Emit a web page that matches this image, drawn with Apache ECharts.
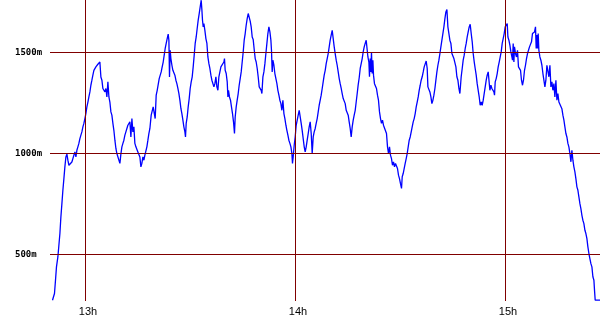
<!DOCTYPE html>
<html>
<head>
<meta charset="utf-8">
<script src="https://cdn.jsdelivr.net/npm/echarts@6/dist/echarts.min.js"></script>
<style>html,body{margin:0;padding:0;background:#fff}#c{width:600px;height:330px}</style>
</head>
<body>
<div id="c"></div>
<script>
// time in minutes after 12:00, altitude in metres
const times = [
50.57,51.06,51.14,51.43,51.71,52.11,52.40,52.69,52.97,53.26,53.54,53.83,54.11,54.40,54.69,54.97,55.26,55.54,55.83,56.11,
56.40,56.69,56.97,57.26,57.54,57.83,58.11,58.40,58.69,58.97,59.26,59.54,59.83,60.11,60.40,60.69,60.97,61.26,61.54,61.83,
62.11,62.40,62.69,62.97,63.26,63.54,63.83,64.11,64.40,64.69,64.97,65.26,65.54,65.83,66.11,66.40,66.69,66.97,67.26,67.54,
67.83,68.11,68.40,68.69,68.97,69.26,69.54,69.83,70.11,70.40,70.69,70.97,71.26,71.54,71.83,72.11,72.40,72.69,72.97,73.26,
73.54,73.83,74.11,74.40,74.69,74.97,75.26,75.54,75.83,76.11,76.40,76.69,76.97,77.26,77.54,77.83,78.11,78.40,78.77,79.06,
79.34,79.63,79.91,80.20,80.49,80.77,81.06,81.34,81.63,81.91,82.20,82.49,82.77,83.06,83.34,83.63,83.83,84.00,84.20,84.40,
84.69,84.97,85.26,85.54,85.83,86.11,86.40,86.69,86.97,87.26,87.54,87.83,88.11,88.40,88.57,88.77,89.06,89.34,89.63,89.91,
90.20,90.49,90.77,91.06,91.34,91.63,91.91,92.20,92.49,92.77,93.06,93.26,93.43,93.63,93.83,94.11,94.40,94.69,94.97,95.26,
95.54,95.83,96.11,96.40,96.69,96.97,97.26,97.54,97.83,98.11,98.40,98.69,98.97,99.26,99.54,99.71,99.91,100.20,100.49,100.69,
100.86,101.14,101.43,101.71,102.00,102.29,102.57,102.77,103.06,103.34,103.63,103.91,104.20,104.49,104.77,105.06,105.34,105.63,105.91,106.20,
106.49,106.77,107.06,107.34,107.63,107.91,108.20,108.49,108.77,109.06,109.34,109.63,109.91,110.20,110.40,110.69,110.97,111.26,111.54,111.83,
112.11,112.40,112.69,112.97,113.14,113.34,113.54,113.83,114.11,114.40,114.69,114.97,115.26,115.54,115.83,116.11,116.40,116.69,116.97,117.26,
117.54,117.83,118.11,118.40,118.69,118.97,119.14,119.34,119.63,119.91,120.20,120.49,120.77,121.06,121.34,121.63,121.91,122.20,122.49,122.77,
123.06,123.34,123.63,123.91,124.20,124.49,124.77,125.06,125.34,125.63,125.91,126.20,126.49,126.77,127.06,127.34,127.63,127.91,128.20,128.49,
128.77,129.06,129.34,129.63,129.91,130.20,130.49,130.77,131.06,131.34,131.63,131.91,132.20,132.49,132.77,133.06,133.34,133.63,133.91,134.20,
134.49,134.77,135.06,135.34,135.63,135.91,136.20,136.49,136.77,137.06,137.34,137.63,137.91,138.20,138.49,138.77,139.06,139.34,139.63,139.91,
140.20,140.49,140.69,140.97,141.14,141.34,141.54,141.71,141.91,142.11,142.29,142.57,142.86,143.14,143.43,143.71,144.00,144.29,144.57,144.86,
145.14,145.43,145.71,146.00,146.29,146.57,146.86,147.14,147.43,147.71,148.00,148.29,148.57,148.86,149.14,149.43,149.71,150.00,150.29,150.49,
150.77,151.06,151.34,151.63,151.91,152.20,152.49,152.77,153.06,153.34,153.63,153.91,154.20,154.49,154.77,155.06,155.34,155.63,155.91,156.20,
156.49,156.77,157.06,157.34,157.63,157.83,158.11,158.40,158.69,158.97,159.26,159.54,159.83,160.11,160.40,160.69,160.97,161.26,161.54,161.83,
162.11,162.40,162.69,162.97,163.26,163.54,163.83,164.11,164.40,164.69,164.97,165.26,165.54,165.83,166.11,166.40,166.69,166.97,167.34,167.63,
167.91,168.20,168.49,168.77,169.06,169.34,169.63,169.91,170.20,170.49,170.77,171.06,171.34,171.63,171.91,172.20,172.49,172.77,173.06,173.34,
173.63,173.91,174.20,174.49,174.77,175.06,175.34,175.54,175.83,176.11,176.40,176.69,176.86,177.06,177.34,177.63,177.91,178.20,178.49,178.77,
179.06,179.34,179.63,179.91,180.20,180.49,180.69,180.97,181.26,181.54,181.83,182.00,182.20,182.40,182.57,182.86,183.14,183.43,183.71,184.00,
184.29,184.57,184.86,185.14,185.43,185.71,186.00,186.29,186.57,186.86,187.14,187.43,187.71,188.00,188.29,188.57,188.77,188.97,189.14,189.34,
189.54,189.83,190.11,190.40,190.69,190.97,191.26,191.54,191.83,192.11,192.40,192.69,192.97,193.26,193.54,193.83,194.11,194.40,194.69,194.97,
195.26,195.54,195.83,196.11,196.40,196.69,196.97,197.26,197.54,197.83,198.11,198.40,198.69,198.97,199.26,199.54,199.83,200.11,200.40,200.69,
200.97,201.26,201.54,201.83,202.11,202.40,202.69,202.97,203.26,203.54,203.83,204.11,204.40,204.69,204.97,205.26,205.43,205.63,207.06
];
const altitudes = [
274,274,307,373,439,488,546,604,686,752,818,876,934,983,997,967,942,934,942,958,
967,992,1008,983,1016,1033,1050,1074,1091,1107,1132,1149,1173,1198,1231,1255,1280,1305,1338,1363,
1388,1412,1421,1429,1437,1442,1437,1453,1379,1363,1322,1330,1305,1322,1280,1355,1280,1255,1206,1190,
1149,1115,1066,1025,1000,997,992,951,997,1033,1050,1066,1091,1107,1124,1140,1149,1157,1082,1173,
1107,1132,1050,1033,1033,1008,1000,983,934,951,983,967,992,1000,1033,1066,1099,1124,1190,1198,
1231,1239,1173,1289,1313,1322,1371,1380,1404,1429,1453,1487,1520,1545,1569,1591,1561,1379,1511,1470,
1437,1412,1404,1388,1363,1346,1322,1297,1264,1223,1198,1165,1132,1107,1082,1149,1181,1231,1272,1322,
1355,1380,1429,1487,1545,1577,1619,1660,1693,1726,1759,1710,1660,1627,1643,1610,1569,1545,1478,1445,
1421,1388,1363,1355,1330,1346,1380,1330,1313,1380,1404,1429,1437,1421,1453,1470,1412,1396,1355,1280,
1313,1280,1264,1231,1198,1157,1099,1181,1231,1264,1297,1338,1371,1404,1453,1503,1561,1594,1635,1668,
1693,1701,1655,1627,1577,1565,1515,1470,1453,1421,1380,1330,1322,1313,1297,1380,1404,1445,1495,1545,
1594,1627,1602,1561,1511,1404,1462,1437,1396,1371,1346,1313,1289,1264,1247,1214,1264,1198,1173,1140,
1115,1091,1066,1050,1033,1000,951,983,1041,1082,1140,1165,1190,1214,1218,1149,1115,1074,1033,1008,
1033,1066,1099,1132,1157,1099,1000,1082,1107,1124,1149,1173,1206,1239,1264,1289,1322,1355,1388,1412,
1445,1470,1495,1528,1561,1586,1610,1607,1528,1495,1462,1437,1404,1371,1346,1322,1297,1272,1264,1247,
1214,1222,1190,1157,1124,1082,1132,1165,1190,1214,1255,1297,1340,1375,1421,1445,1470,1503,1528,1545,
1561,1553,1478,1453,1380,1470,1404,1503,1396,1462,1388,1346,1338,1322,1289,1264,1206,1173,1149,1165,
1140,1149,1132,1099,1033,1000,1033,992,975,942,959,934,951,942,926,893,876,851,827,885,
901,926,951,975,1000,1033,1066,1082,1107,1132,1157,1173,1198,1231,1255,1280,1313,1338,1363,1380,
1404,1429,1437,1458,1421,1330,1322,1305,1280,1247,1264,1289,1322,1363,1404,1437,1462,1495,1528,1561,
1594,1627,1668,1701,1713,1627,1594,1561,1545,1495,1487,1470,1462,1429,1380,1363,1322,1297,1380,1421,
1462,1487,1520,1545,1577,1602,1627,1640,1594,1553,1495,1454,1421,1388,1346,1313,1280,1239,1255,1239,
1264,1297,1330,1363,1388,1404,1412,1313,1338,1322,1313,1305,1289,1355,1371,1396,1429,1453,1478,1503,
1545,1569,1594,1627,1635,1643,1577,1561,1536,1503,1478,1462,1545,1453,1528,1495,1478,1511,1429,1437,
1412,1363,1338,1363,1412,1437,1470,1495,1511,1528,1536,1553,1594,1586,1602,1627,1520,1586,1520,1594,
1511,1478,1462,1437,1396,1388,1330,1363,1437,1429,1380,1437,1330,1355,1313,1346,1280,1363,1264,1297,
1255,1264,1247,1222,1190,1165,1132,1099,1082,1050,1033,1000,959,1016,967,934,909,876,835,818,
785,752,727,694,670,653,620,604,579,538,505,480,455,439,390,373,324,274,274
];
const yTicks = [500, 1000, 1500];
const xTicks = [60, 120, 180];
const xTickLabels = ['13h', '14h', '15h'];

const data = times.map((t, i) => [t, altitudes[i]]);
const chart = echarts.init(document.getElementById('c'), null, {renderer: 'canvas'});
const gridColor = '#800000';
chart.setOption({
  animation: false,
  backgroundColor: '#ffffff',
  grid: {left: 50, right: 0, top: 0, bottom: 29, containLabel: false},
  xAxis: {
    type: 'value', min: 49.86, max: 207,
    axisLine: {show: false}, axisTick: {show: false}, splitLine: {show: false},
    axisLabel: {
      show: true, customValues: xTicks, margin: 5,
      fontFamily: 'Liberation Sans', fontSize: 11, color: '#000',
      padding: [0, 0, 0, 5],
      formatter: v => xTickLabels[xTicks.indexOf(v)] ?? ''
    }
  },
  yAxis: {
    type: 'value', min: 270, max: 1760,
    axisLine: {show: false}, axisTick: {show: false}, splitLine: {show: false},
    axisLabel: {
      show: true, customValues: yTicks, margin: 35, align: 'left',
      fontFamily: 'DejaVu Sans Mono', fontSize: 9, fontWeight: 'bold', color: '#000',
      padding: [7, 0, 0, 0],
      formatter: v => v + 'm'
    }
  },
  series: [{
    type: 'line', data: data, showSymbol: false, symbol: 'none',
    lineStyle: {color: '#0000ff', width: 1.3},
    clip: true,
    markLine: {
      silent: true, symbol: 'none', animation: false,
      label: {show: false},
      lineStyle: {color: gridColor, width: 1, type: 'solid'},
      emphasis: {disabled: true},
      data: yTicks.map(v => ({yAxis: v})).concat(xTicks.map(v => ({xAxis: v})))
    },
    z: 3
  }]
});
</script>
</body>
</html>
